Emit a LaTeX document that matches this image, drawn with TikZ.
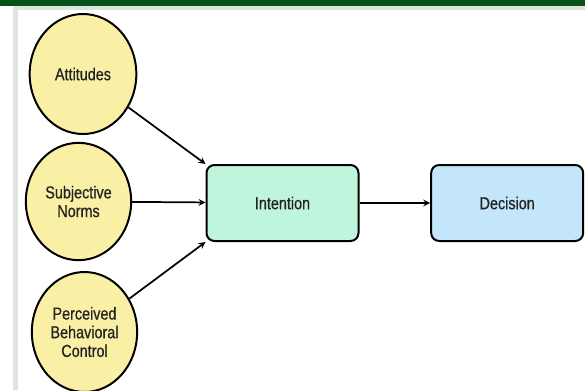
\documentclass[tikz,border=0pt]{standalone}
\usepackage{fontspec}
\setmainfont[FakeStretch=0.83,FakeBold=0.6]{Liberation Sans}
\usepackage{tikz}
\usetikzlibrary{arrows,shapes,shapes.geometric,positioning}
\usepackage{xcolor}
\definecolor{tpbgreen}{RGB}{6,80,26}
\definecolor{tpbstrip}{RGB}{220,230,220}
\definecolor{tpbyellow}{RGB}{250,240,165}
\definecolor{tpbmint}{RGB}{190,245,220}
\definecolor{tpbblue}{RGB}{196,230,250}
\definecolor{tpbtext}{RGB}{35,35,35}
\tikzstyle{arrow} = [line width=1.3pt,->,>=stealth,color=black]
\tikzstyle{factor} = [ellipse, draw=black, fill=tpbyellow, line width=1.5pt, inner sep=0pt, minimum width=79pt, minimum height=89pt, align=center, text=tpbtext, font=\fontsize{13}{14}\selectfont]
\tikzstyle{stagebox} = [rectangle, rounded corners=6pt, draw=black, line width=1.5pt, minimum width=114pt, minimum height=57pt, text centered, text=tpbtext, font=\fontsize{13}{14}\selectfont]

\begin{document}
\begin{tikzpicture}[x=0.75pt,y=-0.75pt]
\useasboundingbox (0,0) rectangle (585,390);
% Frame
\fill[tpbstrip] (13,6) rectangle (585,10);
\fill[tpbstrip] (13,6) rectangle (18,390);
\fill[tpbgreen] (0,0) rectangle (585,6);

% Factors
\node[factor, minimum width=80pt, minimum height=90pt] (att) at (83,74) {Attitudes};
\node[factor, minimum height=88pt] (norms) at (78.5,201.5) {Subjective\\Norms};
\node[factor, minimum height=90pt] (pbc) at (84.5,332) {Perceived\\Behavioral\\Control};

% Intention and decision
\node[stagebox, fill=tpbmint] (int) at (282.5,203) {Intention};
\node[stagebox, fill=tpbblue, right=53pt of int] (dec) {Decision};

\draw[arrow] (att) -- (int.north west);
\draw[arrow] (norms) -- (int);
\draw[arrow] (pbc) -- (int.south west);
\draw[arrow] (int) -- (dec);
\end{tikzpicture}
\end{document}
